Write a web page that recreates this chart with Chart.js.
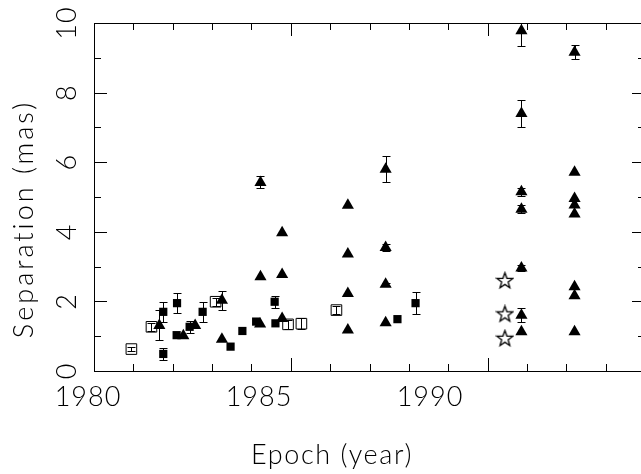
<!DOCTYPE html>
<html>
<head>
<meta charset="utf-8">
<script src="https://cdn.jsdelivr.net/npm/chart.js@4.4.1/dist/chart.umd.min.js"></script>
<style>
  html, body { margin: 0; padding: 0; background: #fff; overflow: hidden; }
  canvas { display: block; }
</style>
</head>
<body>
<canvas id="sepChart" width="660" height="474"></canvas>
<script>
// filled squares
const sqYear = [1981.76, 1981.76, 1982.11, 1982.10, 1982.43, 1982.76, 1983.47, 1983.77, 1984.12, 1984.59, 1984.61, 1987.71, 1988.17];
const sqSep  = [1.70, 0.49, 1.95, 1.03, 1.27, 1.70, 0.70, 1.15, 1.42, 1.99, 1.37, 1.49, 1.95];
const sqErr  = [0.28, 0.17, 0.29, 0, 0.17, 0.29, 0, 0, 0, 0.17, 0, 0, 0.32];

// open squares
const openYear = [1980.95, 1981.46, 1983.09, 1984.93, 1985.27, 1986.16];
const openSep  = [0.63, 1.27, 1.99, 1.34, 1.36, 1.75];
const openErr  = [0.05, 0.12, 0.12, 0.12, 0.15, 0.12];

// filled triangles
const triYear = [1981.66, 1982.27, 1982.57, 1983.25, 1983.25, 1984.22, 1984.23, 1984.23,
  1984.78, 1984.78, 1984.78, 1986.45, 1986.45, 1986.45, 1986.45,
  1987.41, 1987.41, 1987.41, 1987.41,
  1990.86, 1990.86, 1990.86, 1990.86, 1990.86, 1990.86, 1990.86,
  1992.21, 1992.21, 1992.21, 1992.21, 1992.21, 1992.21, 1992.21, 1992.21];
const triSep = [1.31, 1.01, 1.31, 2.03, 0.91, 1.35, 2.71, 5.42,
  1.51, 2.77, 3.97, 1.18, 2.23, 3.36, 4.76,
  1.39, 2.49, 3.55, 5.80,
  1.13, 1.60, 2.96, 4.65, 5.15, 7.40, 9.78,
  1.13, 2.16, 2.42, 4.51, 4.77, 4.96, 5.71, 9.16];
const triErr = [0.43, 0, 0, 0.27, 0, 0, 0, 0.17,
  0, 0, 0, 0, 0, 0, 0,
  0, 0.05, 0.1, 0.38,
  0, 0.2, 0.08, 0.12, 0.12, 0.4, 0.45,
  0, 0, 0, 0, 0, 0, 0, 0.2];

// open stars
const starYear = [1990.44, 1990.44, 1990.44];
const starSep  = [2.60, 1.64, 0.94];

const xTickLabels = ['1980', '1985', '1990'];
const yTickLabels = ['0', '2', '4', '6', '8', '10'];
const xTitle = 'Epoch (year)';
const yTitle = 'Separation (mas)';

const textFont = '300 27px Lato, "Open Sans", "DejaVu Sans", sans-serif';

function toPoints(xs, ys) {
  return xs.map((v, i) => ({x: v, y: ys[i]}));
}

// five pointed open star marker
function makeStar() {
  const c = document.createElement('canvas');
  c.width = 19;
  c.height = 19;
  const g = c.getContext('2d');
  g.strokeStyle = '#000';
  g.lineWidth = 1.3;
  g.lineJoin = 'miter';
  g.beginPath();
  for (let i = 0; i < 10; i++) {
    const r = i % 2 === 0 ? 8.3 : 3.4;
    const a = -Math.PI / 2 + i * Math.PI / 5;
    const px = 9.5 + r * Math.cos(a);
    const py = 10 + r * Math.sin(a);
    if (i === 0) g.moveTo(px, py); else g.lineTo(px, py);
  }
  g.closePath();
  g.stroke();
  return c;
}

const errorBars = {
  id: 'errorBars',
  afterDatasetsDraw(chart) {
    const {ctx, chartArea: a, scales: {y}} = chart;
    ctx.save();
    ctx.beginPath();
    ctx.rect(a.left, a.top, a.right - a.left, a.bottom - a.top);
    ctx.clip();
    ctx.strokeStyle = '#000';
    ctx.lineWidth = 1;
    ctx.beginPath();
    chart.data.datasets.forEach((ds, di) => {
      if (!ds.errors) return;
      const meta = chart.getDatasetMeta(di);
      meta.data.forEach((pt, i) => {
        const e = ds.errors[i];
        if (!e) return;
        const v = ds.data[i].y;
        const px = Math.round(pt.x) + 0.5;
        const top = Math.round(y.getPixelForValue(v + e)) + 0.5;
        const bot = Math.round(y.getPixelForValue(v - e)) + 0.5;
        ctx.moveTo(px, top); ctx.lineTo(px, bot);
        ctx.moveTo(px - 4, top); ctx.lineTo(px + 4, top);
        ctx.moveTo(px - 4, bot); ctx.lineTo(px + 4, bot);
      });
    });
    ctx.stroke();
    ctx.restore();
  }
};

// inward ticks on all four sides, plus the text
const frameTicks = {
  id: 'frameTicks',
  afterDraw(chart) {
    const {ctx, chartArea: a, scales: {x, y}} = chart;
    ctx.save();
    ctx.strokeStyle = '#000';
    ctx.lineWidth = 1;
    ctx.beginPath();
    x.ticks.forEach(t => {
      const px = Math.round(x.getPixelForValue(t.value)) + 0.5;
      const len = t.value % 5 === 0 ? 13 : 7;
      ctx.moveTo(px, a.bottom); ctx.lineTo(px, a.bottom - len);
      ctx.moveTo(px, a.top); ctx.lineTo(px, a.top + len);
    });
    y.ticks.forEach(t => {
      const py = Math.round(y.getPixelForValue(t.value)) + 0.5;
      const len = t.value % 2 === 0 ? 13 : 7;
      ctx.moveTo(a.left, py); ctx.lineTo(a.left + len, py);
      ctx.moveTo(a.right, py); ctx.lineTo(a.right - len, py);
    });
    ctx.stroke();

    ctx.fillStyle = '#000';
    ctx.font = textFont;
    ctx.textAlign = 'center';
    ctx.textBaseline = 'middle';
    ctx.letterSpacing = '1px';
    // x labels sit a little left of their ticks in the original
    xTickLabels.forEach(lbl => {
      const px = x.getPixelForValue(Number(lbl));
      ctx.fillText(lbl, a.left - 6 + (px - a.left) * 0.869, a.bottom + 26);
    });
    ctx.letterSpacing = '1.6px';
    ctx.fillText(xTitle, 332, a.bottom + 84);

    ctx.letterSpacing = '1px';
    yTickLabels.forEach(lbl => {
      const py = y.getPixelForValue(Number(lbl));
      ctx.save();
      ctx.translate(a.left - 27, py);
      ctx.rotate(-Math.PI / 2);
      ctx.fillText(lbl, 0, 0);
      ctx.restore();
    });
    ctx.letterSpacing = '3px';
    ctx.save();
    ctx.translate(24, 219);
    ctx.rotate(-Math.PI / 2);
    ctx.fillText(yTitle, 0, 0);
    ctx.restore();
    ctx.restore();
  }
};

const ctx = document.getElementById('sepChart').getContext('2d');
const sepChart = new Chart(ctx, {
  type: 'scatter',
  data: {
    datasets: [
      {
        label: 'open squares',
        data: toPoints(openYear, openSep),
        errors: openErr,
        pointStyle: 'rect',
        pointRadius: 7.5,
        backgroundColor: 'rgba(0,0,0,0)',
        borderColor: '#000',
        borderWidth: 1,
      },
      {
        label: 'filled squares',
        data: toPoints(sqYear, sqSep),
        errors: sqErr,
        pointStyle: 'rect',
        pointRadius: 5.8,
        backgroundColor: '#000',
        borderColor: '#000',
        borderWidth: 0,
      },
      {
        label: 'triangles',
        data: toPoints(triYear, triSep),
        errors: triErr,
        pointStyle: 'triangle',
        pointRadius: 7,
        backgroundColor: '#000',
        borderColor: '#000',
        borderWidth: 0,
      },
      {
        label: 'stars',
        data: toPoints(starYear, starSep),
        pointStyle: makeStar(),
        pointRadius: 9,
      },
    ],
  },
  options: {
    responsive: false,
    animation: false,
    events: [],
    layout: {
      padding: {left: 94, top: 23, right: 15, bottom: 103}
    },
    plugins: {
      legend: {display: false},
      tooltip: {enabled: false},
    },
    scales: {
      x: {
        type: 'linear',
        position: 'bottom',
        min: 1980,
        max: 1994,
        ticks: {display: false, stepSize: 1},
        grid: {display: false, drawTicks: false},
        border: {display: true, color: '#000', width: 1},
      },
      y: {
        type: 'linear',
        position: 'left',
        min: 0,
        max: 10,
        ticks: {display: false, stepSize: 1},
        grid: {display: false, drawTicks: false},
        border: {display: true, color: '#000', width: 1},
      },
      xTop: {
        type: 'linear',
        position: 'top',
        min: 1980,
        max: 1994,
        ticks: {display: false},
        grid: {display: false, drawTicks: false},
        border: {display: true, color: '#000', width: 1},
      },
      yRight: {
        type: 'linear',
        position: 'right',
        min: 0,
        max: 10,
        ticks: {display: false},
        grid: {display: false, drawTicks: false},
        border: {display: true, color: '#000', width: 1},
      },
    },
  },
  plugins: [errorBars, frameTicks],
});
</script>
</body>
</html>
